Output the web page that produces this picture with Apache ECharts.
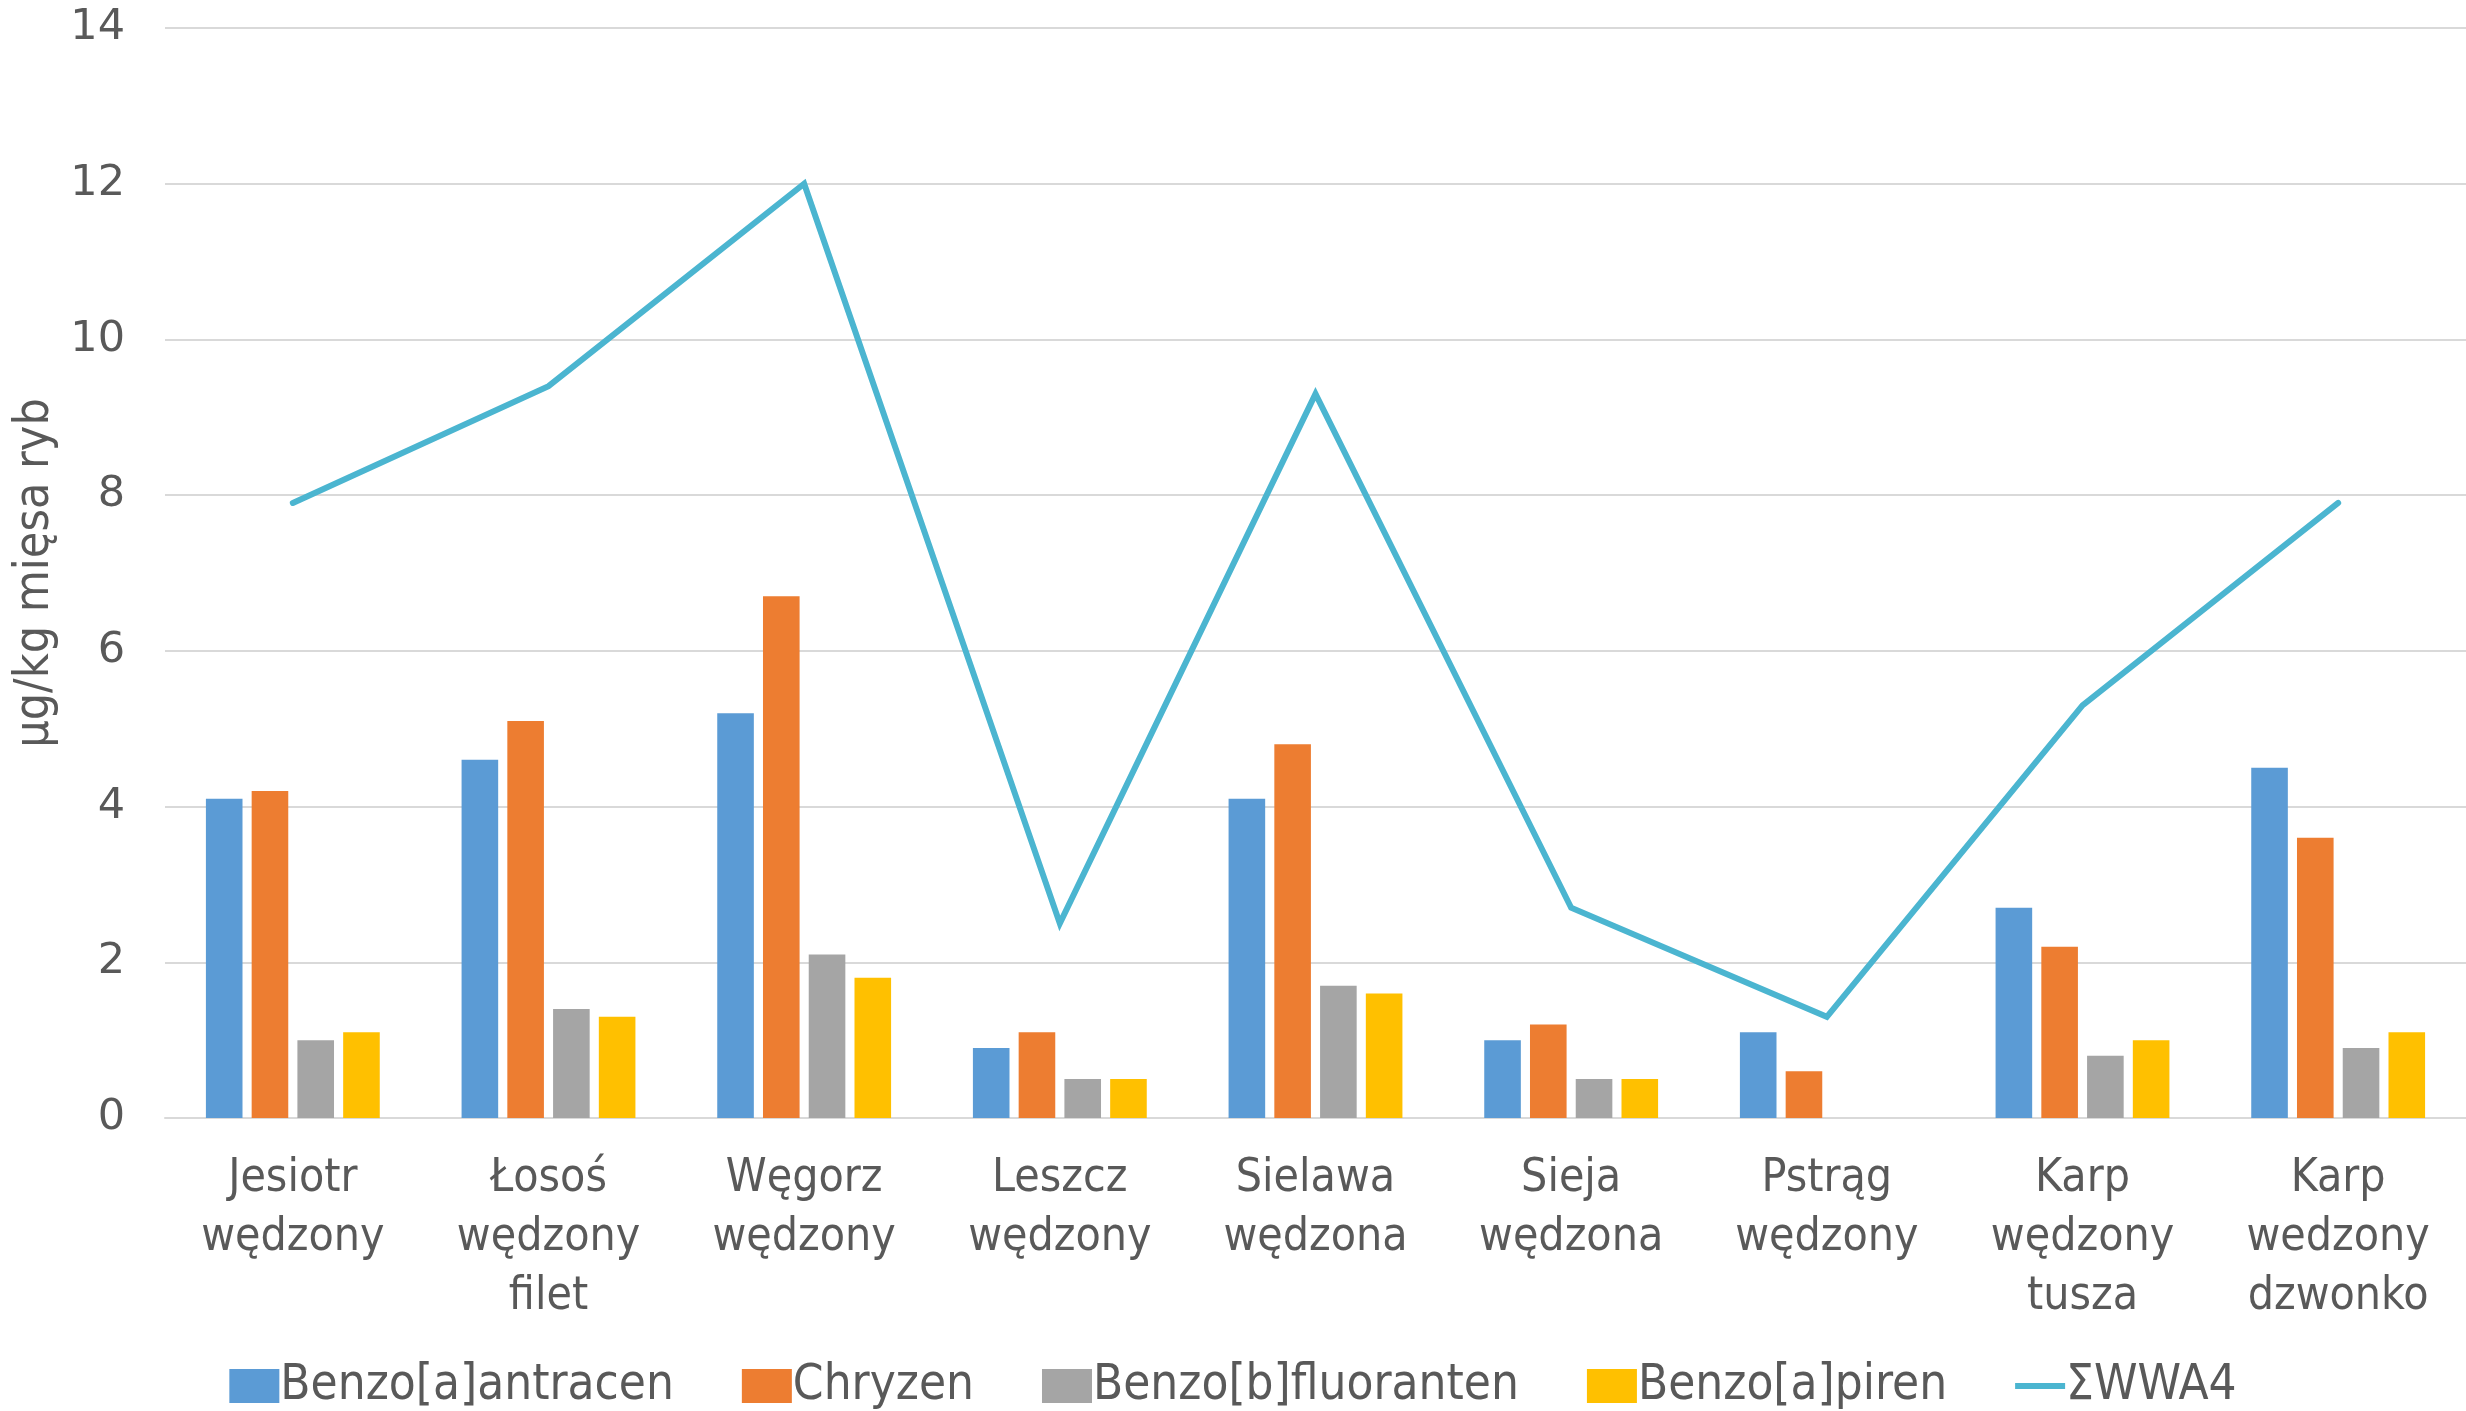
<!DOCTYPE html>
<html>
<head>
<meta charset="utf-8">
<script src="https://cdn.jsdelivr.net/npm/echarts@6/dist/echarts.min.js"></script>
<style>
html,body{margin:0;padding:0;background:#fff;}
#chart{width:2466px;height:1411px;}
</style>
</head>
<body>
<div id="chart"></div>
<script>
const categories = [
  "Jesiotr\nwędzony",
  "Łosoś\nwędzony\nfilet",
  "Węgorz\nwędzony",
  "Leszcz\nwędzony",
  "Sielawa\nwędzona",
  "Sieja\nwędzona",
  "Pstrąg\nwędzony",
  "Karp\nwędzony\ntusza",
  "Karp\nwedzony\ndzwonko"
];
const benzoAAntracen = [4.1, 4.6, 5.2, 0.9, 4.1, 1.0, 1.1, 2.7, 4.5];
const chryzen        = [4.2, 5.1, 6.7, 1.1, 4.8, 1.2, 0.6, 2.2, 3.6];
const benzoBFluoranten = [1.0, 1.4, 2.1, 0.5, 1.7, 0.5, null, 0.8, 0.9];
const benzoAPiren    = [1.1, 1.3, 1.8, 0.5, 1.6, 0.5, null, 1.0, 1.1];
const sumWWA4        = [7.9, 9.4, 12.0, 2.5, 9.3, 2.7, 1.3, 5.3, 7.9];
const yTicks = { min: 0, max: 14, interval: 2 };
const seriesNames = ["Benzo[a]antracen", "Chryzen", "Benzo[b]fluoranten", "Benzo[a]piren", "ΣWWA4"];
const yAxisTitle = "µg/kg mięsa ryb";

const NARROW = "'Liberation Sans Narrow', 'Arial Narrow', 'DejaVu Sans Condensed', sans-serif";
const TXT = '#595959';
const colors = ['#5B9BD5', '#ED7D31', '#A5A5A5', '#FFC000', '#4BB5D0'];

const chart = echarts.init(document.getElementById('chart'));
const barSeries = [benzoAAntracen, chryzen, benzoBFluoranten, benzoAPiren].map((d, i) => ({
  name: seriesNames[i],
  type: 'bar',
  data: d,
  barGap: '25%',
  barCategoryGap: '32%',
  itemStyle: { color: colors[i] },
  animation: false
}));

chart.setOption({
  animation: false,
  color: colors,
  grid: { left: 165, right: 0, top: 28, bottom: 293, containLabel: false, outerBoundsMode: 'none' },
  legend: {
    top: 1352,
    left: 'center',
    itemWidth: 50,
    itemHeight: 34,
    itemGap: 68,
    textStyle: { fontFamily: NARROW, fontSize: 49, color: TXT, lineHeight: 58, padding: [0, 0, 0, -4] },
    data: [
      { name: seriesNames[0], icon: 'rect' },
      { name: seriesNames[1], icon: 'rect' },
      { name: seriesNames[2], icon: 'rect' },
      { name: seriesNames[3], icon: 'rect' },
      { name: seriesNames[4], icon: 'path://M0,0 L50,0 L50,6 L0,6 Z', itemStyle: { color: colors[4] } }
    ]
  },
  xAxis: {
    type: 'category',
    data: categories,
    axisLine: { show: true, lineStyle: { color: '#D9D9D9', width: 2 } },
    axisTick: { show: false },
    axisLabel: {
      interval: 0,
      margin: 32,
      fontFamily: NARROW,
      fontSize: 46,
      lineHeight: 59,
      color: TXT
    }
  },
  yAxis: {
    type: 'value',
    min: yTicks.min,
    max: yTicks.max,
    interval: yTicks.interval,
    name: yAxisTitle,
    nameLocation: 'middle',
    nameGap: 103,
    nameRotate: 90,
    nameTextStyle: { fontFamily: NARROW, fontSize: 48, color: TXT },
    axisLine: { show: false },
    axisTick: { show: false },
    splitLine: { lineStyle: { color: '#D9D9D9', width: 2 } },
    axisLabel: { fontFamily: "'DejaVu Sans', sans-serif", fontSize: 43, color: TXT, margin: 40 }
  },
  series: barSeries.concat([{
    name: seriesNames[4],
    type: 'line',
    data: sumWWA4,
    showSymbol: false,
    symbol: 'none',
    z: 5,
    lineStyle: { color: colors[4], width: 6, cap: 'round', join: 'miter' },
    itemStyle: { color: colors[4] }
  }])
});
</script>
</body>
</html>
